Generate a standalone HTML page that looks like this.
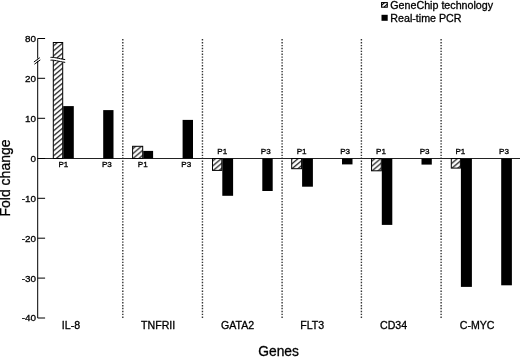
<!DOCTYPE html><html><head><meta charset="utf-8"><style>html,body{margin:0;padding:0;background:#fff;}svg{display:block;will-change:transform;}text{font-family:"Liberation Sans",sans-serif;fill:#000;stroke:#000;stroke-width:0.3px;}</style></head><body>
<svg width="520" height="357" viewBox="0 0 520 357">
<defs><pattern id="h" patternUnits="userSpaceOnUse" width="5.9" height="5" patternTransform="translate(0,1.25)"><path d="M-1.18,6 L7.08,-1 M-1.18,1 L1.18,-1 M4.72,6 L7.08,4" stroke="#000" stroke-width="1.1"/></pattern></defs>
<rect width="520" height="357" fill="#fff"/>
<line x1="122.8" y1="39.1" x2="122.8" y2="318.3" stroke="#333" stroke-width="1.4" stroke-dasharray="1.4 1.49"/>
<line x1="202.45" y1="39.1" x2="202.45" y2="318.3" stroke="#333" stroke-width="1.4" stroke-dasharray="1.4 1.49"/>
<line x1="282.1" y1="39.1" x2="282.1" y2="318.3" stroke="#333" stroke-width="1.4" stroke-dasharray="1.4 1.49"/>
<line x1="361.4" y1="39.1" x2="361.4" y2="318.3" stroke="#333" stroke-width="1.4" stroke-dasharray="1.4 1.49"/>
<line x1="441.1" y1="39.1" x2="441.1" y2="318.3" stroke="#333" stroke-width="1.4" stroke-dasharray="1.4 1.49"/>
<line x1="37.7" y1="158.5" x2="520" y2="158.5" stroke="#222" stroke-width="1"/>
<rect x="53.30" y="42.50" width="9.40" height="116.00" fill="url(#h)" stroke="#000" stroke-width="1"/>
<rect x="63.20" y="106.10" width="10.60" height="52.40" fill="#000"/>
<rect x="103.20" y="110.10" width="10.30" height="48.40" fill="#000"/>
<rect x="132.60" y="146.30" width="10.10" height="12.20" fill="url(#h)" stroke="#000" stroke-width="1"/>
<rect x="143.20" y="150.90" width="9.90" height="7.60" fill="#000"/>
<rect x="182.60" y="119.90" width="10.40" height="38.60" fill="#000"/>
<rect x="212.50" y="158.50" width="9.30" height="11.90" fill="url(#h)" stroke="#000" stroke-width="1"/>
<rect x="222.30" y="158.50" width="10.80" height="37.30" fill="#000"/>
<rect x="262.30" y="158.50" width="10.40" height="32.50" fill="#000"/>
<rect x="291.70" y="158.50" width="9.90" height="10.20" fill="url(#h)" stroke="#000" stroke-width="1"/>
<rect x="302.10" y="158.50" width="10.80" height="28.20" fill="#000"/>
<rect x="342.00" y="158.50" width="10.50" height="5.90" fill="#000"/>
<rect x="371.55" y="158.50" width="9.75" height="12.30" fill="url(#h)" stroke="#000" stroke-width="1"/>
<rect x="381.80" y="158.50" width="10.50" height="66.40" fill="#000"/>
<rect x="421.50" y="158.50" width="10.30" height="6.10" fill="#000"/>
<rect x="451.30" y="158.50" width="9.10" height="9.60" fill="url(#h)" stroke="#000" stroke-width="1"/>
<rect x="460.90" y="158.50" width="11.00" height="128.40" fill="#000"/>
<rect x="501.20" y="158.50" width="10.70" height="126.80" fill="#000"/>
<path d="M45.1,38.5 H37.7 V58.6 M37.7,60.8 V318.0 H45.1" fill="none" stroke="#000" stroke-width="1"/>
<line x1="37.7" y1="78.3" x2="45.1" y2="78.3" stroke="#000" stroke-width="1"/>
<line x1="37.7" y1="118.3" x2="45.1" y2="118.3" stroke="#000" stroke-width="1"/>
<line x1="37.7" y1="158.5" x2="45.1" y2="158.5" stroke="#000" stroke-width="1"/>
<line x1="37.7" y1="198.3" x2="45.1" y2="198.3" stroke="#000" stroke-width="1"/>
<line x1="37.7" y1="238.2" x2="45.1" y2="238.2" stroke="#000" stroke-width="1"/>
<line x1="37.7" y1="278.1" x2="45.1" y2="278.1" stroke="#000" stroke-width="1"/>
<path d="M33.9,62 L39.8,57.7 M34.4,64.2 L40.3,59.9" stroke="#000" stroke-width="1" fill="none"/>
<path d="M50.5,57.4 C54,57 58,58.5 65.2,59.6 L65.2,62.4 C58,61.3 54,59.8 50.5,60.2 Z" fill="#fff" stroke="none"/>
<path d="M50.5,57.4 C54,57 58,58.5 65.2,59.6 M50.5,60.2 C54,59.8 58,61.3 65.2,62.4" fill="none" stroke="#000" stroke-width="1"/>
<text x="36.1" y="41.95" font-size="9.9" text-anchor="end">80</text>
<text x="36.1" y="81.75" font-size="9.9" text-anchor="end">20</text>
<text x="36.1" y="121.75" font-size="9.9" text-anchor="end">10</text>
<text x="36.1" y="161.95" font-size="9.9" text-anchor="end">0</text>
<text x="36.1" y="201.75" font-size="9.9" text-anchor="end">-10</text>
<text x="36.1" y="241.65" font-size="9.9" text-anchor="end">-20</text>
<text x="36.1" y="281.55" font-size="9.9" text-anchor="end">-30</text>
<text x="36.1" y="321.45" font-size="9.9" text-anchor="end">-40</text>
<text x="63.40" y="166.5" font-size="8.1" text-anchor="middle">P1</text>
<text x="106.90" y="166.5" font-size="8.1" text-anchor="middle">P3</text>
<text x="142.80" y="166.5" font-size="8.1" text-anchor="middle">P1</text>
<text x="186.32" y="166.5" font-size="8.1" text-anchor="middle">P3</text>
<text x="222.20" y="154.4" font-size="8.1" text-anchor="middle">P1</text>
<text x="265.74" y="154.4" font-size="8.1" text-anchor="middle">P3</text>
<text x="301.60" y="154.4" font-size="8.1" text-anchor="middle">P1</text>
<text x="345.16" y="154.4" font-size="8.1" text-anchor="middle">P3</text>
<text x="381.00" y="154.4" font-size="8.1" text-anchor="middle">P1</text>
<text x="424.58" y="154.4" font-size="8.1" text-anchor="middle">P3</text>
<text x="460.40" y="154.4" font-size="8.1" text-anchor="middle">P1</text>
<text x="504.00" y="154.4" font-size="8.1" text-anchor="middle">P3</text>
<text x="61.80" y="328.9" font-size="10.6">IL-8</text>
<text x="141.10" y="328.9" font-size="10.6">TNFRII</text>
<text x="221.00" y="328.9" font-size="10.6">GATA2</text>
<text x="300.20" y="328.9" font-size="10.6">FLT3</text>
<text x="380.05" y="328.9" font-size="10.6">CD34</text>
<text x="459.80" y="328.9" font-size="10.6">C-MYC</text>
<text x="278.6" y="356" font-size="13.8" text-anchor="middle">Genes</text>
<text transform="translate(10.2,178) rotate(-90)" font-size="14" text-anchor="middle">Fold change</text>
<rect x="381.6" y="2.6" width="5.7" height="4.6" fill="#fff" stroke="#000" stroke-width="1.1"/>
<path d="M381.6,5.4 L384.6,2.6 M384.0,7.2 L387.3,4.2" stroke="#000" stroke-width="1.1" fill="none"/>
<rect x="381.5" y="14.8" width="6.2" height="6.0" fill="#000"/>
<text x="390.3" y="8.7" font-size="10.7">GeneChip technology</text>
<text x="390.3" y="21.5" font-size="10.7">Real-time PCR</text>
</svg></body></html>
